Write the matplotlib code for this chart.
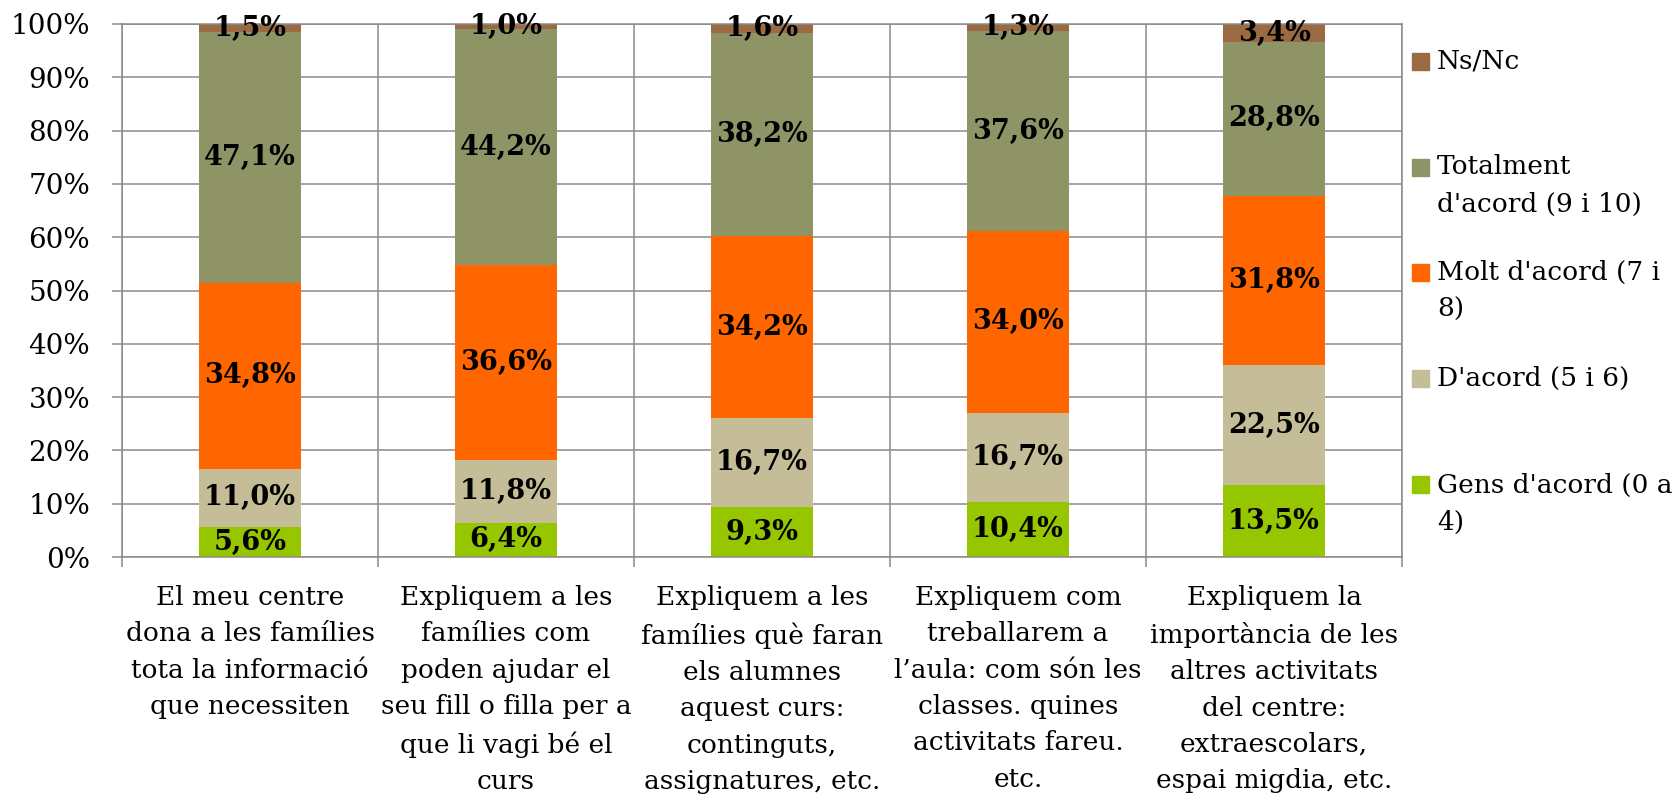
import numpy as np
import matplotlib
matplotlib.use("Agg")
import matplotlib.pyplot as plt
from matplotlib.patches import Rectangle

# --------------------------------------------------------------
# Data
# --------------------------------------------------------------
categories = [
    "El meu centre\ndona a les famílies\ntota la informació\nque necessiten",
    "Expliquem a les\nfamílies com\npoden ajudar el\nseu fill o filla per a\nque li vagi bé el\ncurs",
    "Expliquem a les\nfamílies què faran\nels alumnes\naquest curs:\ncontinguts,\nassignatures, etc.",
    "Expliquem com\ntreballarem a\nl’aula: com són les\nclasses. quines\nactivitats fareu.\netc.",
    "Expliquem la\nimportància de les\naltres activitats\ndel centre:\nextraescolars,\nespai migdia, etc.",
]

gens = [5.6, 6.4, 9.3, 10.4, 13.5]
dacord = [11.0, 11.8, 16.7, 16.7, 22.5]
molt = [34.8, 36.6, 34.2, 34.0, 31.8]
totalment = [47.1, 44.2, 38.2, 37.6, 28.8]
nsnc = [1.5, 1.0, 1.6, 1.3, 3.4]

series = [gens, dacord, molt, totalment, nsnc]
series_names = ["Gens d'acord (0 a\n4)", "D'acord (5 i 6)", "Molt d'acord (7 i\n8)",
                "Totalment\nd'acord (9 i 10)", "Ns/Nc"]
colors = ["#95c600", "#c4bd97", "#ff6600", "#8f9466", "#9a6b42"]

yticks = list(range(0, 101, 10))

# --------------------------------------------------------------
# Plot
# --------------------------------------------------------------
grid_col = "#8a8a8a"
fig = plt.figure(figsize=(16.73, 8.0), dpi=100)
ax = fig.add_axes([122 / 1673, 1 - 557 / 800, 1280 / 1673, 533 / 800])

x = np.arange(len(categories))
bottom = np.zeros(len(categories))
for vals, col in zip(series, colors):
    vals = np.array(vals)
    ax.bar(x, vals, width=0.4, bottom=bottom, color=col, zorder=2)
    for xi, b, v in zip(x, bottom, vals):
        ax.text(xi, b + v / 2, f"{v:.1f}%".replace(".", ","), ha="center", va="center",
                fontsize=19.5, fontweight="bold", family="DejaVu Serif", zorder=3)
    bottom += vals

ax.set_xlim(-0.5, len(categories) - 0.5)
ax.set_ylim(0, 100)
ax.set_yticks(yticks)
ax.set_yticklabels([f"{t}%" for t in yticks], family="DejaVu Serif", fontsize=20)
ax.set_xticks(x)
ax.set_xticklabels(categories, family="DejaVu Serif", fontsize=19, linespacing=1.57)
ax.set_xticks(np.arange(-0.5, len(categories)), minor=True)

ax.tick_params(axis="x", which="major", length=0, pad=20)
ax.tick_params(axis="x", which="minor", length=7, width=1.1, color=grid_col)
ax.tick_params(axis="y", length=7, width=1.1, color=grid_col, pad=16)

ax.grid(axis="y", which="major", color=grid_col, linewidth=1.1)
ax.grid(axis="x", which="minor", color=grid_col, linewidth=1.1)
ax.set_axisbelow(True)
for s in ax.spines.values():
    s.set_color(grid_col)
    s.set_linewidth(1.1)

# --------------------------------------------------------------
# Legend (top to bottom, square aligned to first line)
# --------------------------------------------------------------
legend_y = [61, 167, 272, 378, 485]
for (name, col), ypix in zip(list(zip(series_names, colors))[::-1], legend_y):
    fig.patches.append(Rectangle((1412 / 1673, 1 - (ypix + 8.5) / 800), 17 / 1673, 17 / 800,
                                 transform=fig.transFigure, color=col))
    for k, line in enumerate(name.split("\n")):
        fig.text(1437 / 1673, 1 - (ypix + 37 * k) / 800, line, ha="left", va="center",
                 family="DejaVu Serif", fontsize=19)

fig.savefig("out.png", dpi=100)
